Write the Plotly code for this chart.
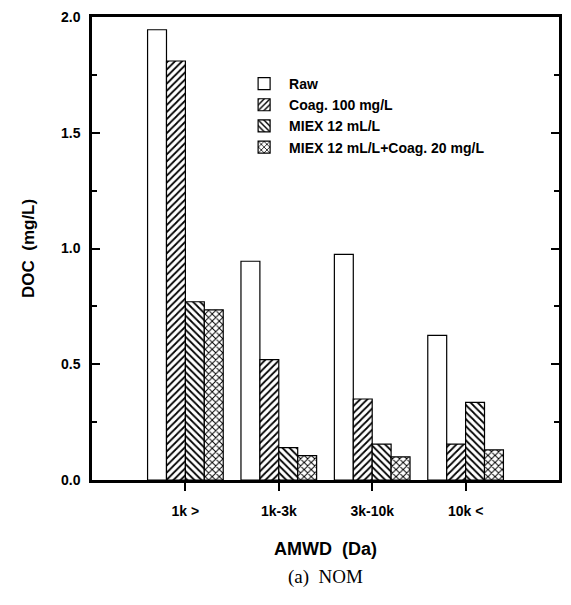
import plotly.graph_objects as go

categories = ["1k >", "1k-3k", "3k-10k", "10k <"]
cat_pos = [1, 2, 3, 4]
series_names = ["Raw", "Coag. 100 mg/L", "MIEX 12 mL/L", "MIEX 12 mL/L+Coag. 20 mg/L"]
raw = [1.945, 0.945, 0.975, 0.625]
coag = [1.81, 0.52, 0.35, 0.155]
miex = [0.77, 0.14, 0.155, 0.335]
hybrid = [0.735, 0.105, 0.10, 0.13]
y_ticks = [0.0, 0.5, 1.0, 1.5, 2.0]

values = [raw, coag, miex, hybrid]
patterns = ["", "/", "\\", "x"]

FONT = "Liberation Sans, Arial, sans-serif"

fig = go.Figure()
for name, vals, pat in zip(series_names, values, patterns):
    marker = dict(color="white", line=dict(color="black", width=1.2))
    if pat:
        marker["pattern"] = dict(shape=pat, fgcolor="black", bgcolor="white",
                                 size=5, solidity=0.35, fillmode="replace")
    fig.add_trace(go.Bar(x=cat_pos, y=vals, name=name, marker=marker))

fig.update_layout(
    width=571, height=605,
    margin=dict(l=92, r=9, t=10, b=125),
    paper_bgcolor="white", plot_bgcolor="white",
    barmode="group", bargap=0.19, bargroupgap=0,
    showlegend=True,
    legend=dict(x=0.315, y=0.89, xanchor="left", yanchor="top",
                bgcolor="rgba(0,0,0,0)", borderwidth=0,
                font=dict(family=FONT, size=14, color="black", weight="bold"),
                itemwidth=40, traceorder="normal"),
    font=dict(family=FONT, color="black"),
)

fig.update_xaxes(
    range=[0, 5], tickvals=cat_pos, ticktext=categories,
    ticks="outside", ticklen=8, tickwidth=1.5, tickcolor="black",
    showline=True, linecolor="black", linewidth=2.5, mirror=True,
    showgrid=False, zeroline=False,
    tickfont=dict(family=FONT, size=14, color="black", weight="bold"),
    ticklabelstandoff=8,
)
fig.update_yaxes(
    range=[0, 2.0], tickvals=y_ticks, tickformat=".1f",
    ticks="inside", ticklen=8, tickwidth=1.5, tickcolor="black",
    minor=dict(ticks="inside", ticklen=5, tickwidth=1.5, tickcolor="black", dtick=0.25),
    showline=True, linecolor="black", linewidth=2.5, mirror="ticks",
    showgrid=False, zeroline=False,
    tickfont=dict(family=FONT, size=14, color="black", weight="bold"),
    ticklabelstandoff=6,
)

fig.add_annotation(text="AMWD  (Da)", xref="paper", yref="paper",
                   x=0.5, y=-0.149, xanchor="center", yanchor="middle",
                   showarrow=False,
                   font=dict(family=FONT, size=18, color="black", weight="bold"))
fig.add_annotation(text="DOC  (mg/L)", xref="paper", yref="paper",
                   x=-0.136, y=0.5, xanchor="center", yanchor="middle",
                   textangle=-90, showarrow=False,
                   font=dict(family=FONT, size=17, color="black", weight="bold"))
fig.add_annotation(text="(a)  NOM", xref="paper", yref="paper",
                   x=0.5, y=-0.209, xanchor="center", yanchor="middle",
                   showarrow=False,
                   font=dict(family="Liberation Serif, Times New Roman, serif", size=19, color="black"))

fig.write_html("out.html")
